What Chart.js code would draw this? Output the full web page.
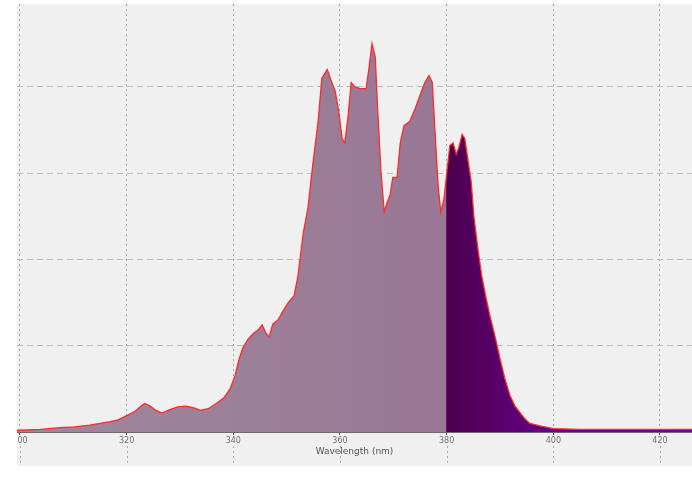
<!DOCTYPE html>
<html>
<head>
<meta charset="utf-8">
<script src="https://cdn.jsdelivr.net/npm/chart.js@4.4.1/dist/chart.umd.min.js"></script>
<style>
  html, body { margin: 0; padding: 0; background: #ffffff; }
  #frame {
    position: absolute; left: 17px; top: 4px; width: 675px; height: 462px;
    overflow: hidden; background: #f0f0f0;
  }
  #holder { position: absolute; left: -30px; top: 0; width: 705px; height: 462px; }
</style>
</head>
<body>
<div id="frame"><div id="holder"><canvas id="spectrum"></canvas></div></div>
<script>
// wavelength (nm) and relative intensity
const wavelengths = [
  299.4, 300.0, 303.8, 307.5, 310.3, 313.1, 315.0, 316.9, 318.4, 320.0,
  321.6, 322.7, 323.4, 324.4, 325.5, 326.6, 328.1, 329.6, 331.1, 332.6,
  333.8, 335.3, 336.8, 338.3, 339.4, 340.3, 341.1, 341.8, 342.8, 343.9,
  344.6, 345.4, 346.1, 346.7, 347.4, 348.4, 349.3, 350.3, 351.4, 352.1,
  353.1, 354.0, 354.9, 355.9, 356.6, 357.6, 358.3, 359.1, 359.8, 360.4,
  360.9, 361.5, 362.1, 362.8, 363.8, 364.9, 365.4, 366.0, 366.6, 367.1,
  367.7, 368.3, 368.8, 369.4, 369.9, 370.7, 371.3, 372.0, 373.1, 374.1,
  375.0, 375.9, 376.7, 377.3, 377.8, 378.4, 378.9, 379.5, 380.1, 380.6,
  381.2, 381.8, 382.3, 382.9, 383.4, 384.0, 384.6, 385.1, 385.9, 386.6,
  387.4, 388.1, 389.1, 390.0, 390.9, 391.9, 392.8, 393.8, 394.7, 395.6,
  397.5, 400.0, 405.0, 412.5, 420.0, 426.0
];
const intensity = [
  0.02, 0.02, 0.03, 0.05, 0.06, 0.08, 0.10, 0.12, 0.14, 0.19,
  0.24, 0.30, 0.33, 0.30, 0.25, 0.22, 0.26, 0.29, 0.30, 0.28,
  0.25, 0.27, 0.33, 0.40, 0.50, 0.65, 0.85, 0.98, 1.08, 1.15,
  1.18, 1.24, 1.15, 1.10, 1.25, 1.30, 1.40, 1.50, 1.58, 1.80,
  2.30, 2.60, 3.10, 3.60, 4.10, 4.20, 4.08, 3.95, 3.70, 3.40,
  3.35, 3.65, 4.05, 4.00, 3.98, 3.98, 4.20, 4.50, 4.35, 3.70,
  3.00, 2.55, 2.65, 2.75, 2.95, 2.95, 3.35, 3.55, 3.60, 3.75,
  3.90, 4.05, 4.13, 4.05, 3.50, 2.85, 2.55, 2.70, 3.05, 3.32,
  3.35, 3.22, 3.30, 3.45, 3.40, 3.15, 2.90, 2.50, 2.10, 1.80,
  1.55, 1.35, 1.10, 0.85, 0.62, 0.42, 0.30, 0.22, 0.15, 0.10,
  0.07, 0.04, 0.03, 0.03, 0.03, 0.03
];
const xTicks = [300, 320, 340, 360, 380, 400, 420];
const cutoff = 380; // excitation/emission split in the fill

const points = wavelengths.map((w, i) => ({ x: w, y: intensity[i] }));

function fillGradient(context) {
  const chart = context.chart;
  const area = chart.chartArea;
  if (!area) return '#9a7896';
  const ctx = chart.ctx;
  const x = chart.scales.x;
  const g = ctx.createLinearGradient(area.left, 0, area.right, 0);
  const span = area.right - area.left;
  const s = (x.getPixelForValue(cutoff) - area.left) / span;
  const s2 = (x.getPixelForValue(400) - area.left) / span;
  g.addColorStop(0, '#a0889c');
  g.addColorStop(s - 0.001, '#997795');
  g.addColorStop(s, '#4a004c');
  g.addColorStop(s2, '#68008a');
  g.addColorStop(1, '#7400a8');
  return g;
}

// dotted grid continues below the tick labels, as in the original
const gridTail = {
  id: 'gridTail',
  afterDraw(chart) {
    const ctx = chart.ctx;
    const sx = chart.scales.x;
    ctx.save();
    ctx.strokeStyle = '#a8a8a8';
    ctx.lineWidth = 1;
    ctx.setLineDash([2, 3]);
    sx.ticks.forEach(t => {
      const px = Math.round(sx.getPixelForValue(t.value)) + 0.5;
      ctx.beginPath();
      ctx.moveTo(px, sx.top + 14);
      ctx.lineTo(px, chart.height);
      ctx.stroke();
    });
    ctx.restore();
  }
};

new Chart(document.getElementById('spectrum'), {
  type: 'line',
  data: {
    datasets: [{
      label: 'Spectrum',
      data: points,
      borderColor: '#ff2a2a',
      borderWidth: 1.3,
      backgroundColor: fillGradient,
      fill: 'origin',
      pointRadius: 0,
      tension: 0
    }]
  },
  options: {
    responsive: true,
    maintainAspectRatio: false,
    animation: false,
    layout: { padding: 0 },
    plugins: {
      legend: { display: false },
      tooltip: { enabled: false }
    },
    scales: {
      x: {
        type: 'linear',
        min: 299.44,
        max: 426,
        afterBuildTicks: s => { s.ticks = xTicks.map(v => ({ value: v })); },
        afterFit: s => { s.height = 34; },
        ticks: {
          includeBounds: false,
          font: { family: 'DejaVu Sans', size: 8 },
          color: '#707070',
          padding: 1,
          maxRotation: 0
        },
        grid: {
          color: '#a8a8a8',
          tickColor: '#505050',
          tickLength: 3,
          tickBorderDash: []
        },
        border: { display: true, color: '#6a6a6a', width: 1, dash: [2, 3] },
        title: {
          display: true,
          text: 'Wavelength (nm)',
          font: { family: 'DejaVu Sans', size: 9 },
          color: '#555555',
          padding: { top: 0, bottom: 9 }
        }
      },
      y: {
        min: 0,
        max: 4.96,
        afterFit: s => { s.width = 30; },
        ticks: { stepSize: 1, display: false, includeBounds: false },
        grid: {
          color: '#bdbdbd',
          drawTicks: false
        },
        border: { display: false, dash: [6, 4] }
      }
    }
  },
  plugins: [gridTail]
});
</script>
</body>
</html>
